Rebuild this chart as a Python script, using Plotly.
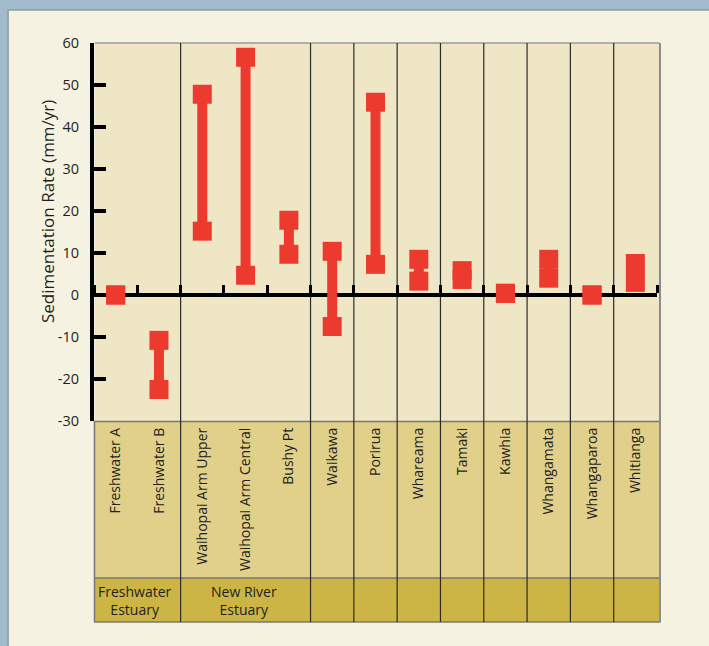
import plotly.graph_objects as go

# ---------------- data ----------------
categories = ["Freshwater A", "Freshwater B", "Waihopai Arm Upper", "Waihopai Arm Central",
              "Bushy Pt", "Waikawa", "Porirua", "Whareama", "Tamaki", "Kawhia",
              "Whangamata", "Whangaparoa", "Whitianga"]
rate_low = [0.0, -22.5, 15.2, 4.7, 9.7, -7.5, 7.3, 3.3, 3.7, 0.4, 4.0, 0.0, 3.0]
rate_high = [0.0, -10.8, 47.8, 56.6, 17.8, 10.4, 45.9, 8.5, 5.8, 0.4, 8.5, 0.0, 7.5]
group_labels = ["Freshwater<br>Estuary", "New River<br>Estuary"]
group_first = [0, 2]
group_last = [1, 4]
divider_after = [1, 4, 5, 6, 7, 8, 9, 10, 11]
y_ticks = [-30, -20, -10, 0, 10, 20, 30, 40, 50, 60]
y_tick_text = [str(v) for v in y_ticks]
y_title = "Sedimentation Rate (mm/yr)"

# ---------------- style ----------------
RED = "#EC3A2F"
BLUE = "#A2BBCA"
CREAM = "#F6F2E2"
TAN = "#EFE6C6"
BAND1 = "#E0D08A"
BAND2 = "#CDB545"
INK = "#231F20"
FONT = "Open Sans"

W, H = 709, 646
L, R, T, B = 94, 657.5, 43, 421


def px(x):
    return (x - L) / (R - L)


def py(y):
    return (B - y) / (B - T)


fig = go.Figure()

# connectors
xs, ys = [], []
for c, lo, hi in zip(categories, rate_low, rate_high):
    if hi != lo:
        xs += [c, c, None]
        ys += [lo, hi, None]
fig.add_trace(go.Scatter(x=xs, y=ys, mode="lines", line=dict(color=RED, width=10),
                         hoverinfo="skip", showlegend=False, connectgaps=False))
# end markers
fig.add_trace(go.Scatter(x=categories + categories, y=rate_low + rate_high, mode="markers",
                         marker=dict(symbol="square", size=19, color=RED, line=dict(width=0)),
                         showlegend=False))
# label axis carrier
fig.add_trace(go.Scatter(x=categories, y=rate_low, xaxis="x2", mode="markers",
                         marker=dict(opacity=0), hoverinfo="skip", showlegend=False))

shapes = []
# panel
shapes.append(dict(type="rect", xref="paper", yref="paper", layer="below",
                   x0=px(8), x1=px(730), y0=py(10), y1=py(680),
                   fillcolor=CREAM, line=dict(color="#8E9CA6", width=1.5)))
# plot area
shapes.append(dict(type="rect", xref="paper", yref="paper", layer="below",
                   x0=px(95), x1=px(660), y0=py(43), y1=py(421),
                   fillcolor=TAN, line=dict(width=0)))
# label band
shapes.append(dict(type="rect", xref="paper", yref="paper", layer="below",
                   x0=px(94), x1=px(661), y0=py(578), y1=py(421),
                   fillcolor=BAND1, line=dict(width=0)))
# group band
shapes.append(dict(type="rect", xref="paper", yref="paper", layer="below",
                   x0=px(94), x1=px(661), y0=py(622), y1=py(578),
                   fillcolor=BAND2, line=dict(width=0)))
GRAY = "#777777"
for yy in (421.5, 578, 622):
    shapes.append(dict(type="line", xref="paper", yref="paper", layer="below",
                       x0=px(94), x1=px(661), y0=py(yy), y1=py(yy),
                       line=dict(color=GRAY, width=1.5)))
shapes.append(dict(type="line", xref="paper", yref="paper", layer="below",
                   x0=px(95), x1=px(660), y0=py(43), y1=py(43),
                   line=dict(color="#9A9A9A", width=1.5)))
shapes.append(dict(type="line", xref="paper", yref="paper", layer="below",
                   x0=px(660.5), x1=px(660.5), y0=py(622), y1=py(43),
                   line=dict(color="#8C8C8C", width=2)))
shapes.append(dict(type="line", xref="paper", yref="paper", layer="below",
                   x0=px(94.5), x1=px(94.5), y0=py(622), y1=py(421),
                   line=dict(color=GRAY, width=1.5)))
for i in divider_after:
    shapes.append(dict(type="line", xref="x", yref="paper", layer="below",
                       x0=i + 0.5, x1=i + 0.5, y0=py(622), y1=1,
                       line=dict(color="#2B2B2B", width=1.2)))

annotations = [dict(text=y_title, xref="paper", yref="paper", x=px(47), y=py(212),
                    textangle=-90, showarrow=False, xanchor="center", yanchor="middle",
                    font=dict(family=FONT, size=17, color=INK))]
for lab, a, b in zip(group_labels, group_first, group_last):
    annotations.append(dict(text=lab, xref="x", yref="paper", x=(a + b) / 2, y=py(600),
                            xshift=-2, showarrow=False, xanchor="center", yanchor="middle",
                            align="center", font=dict(family=FONT, size=14, color=INK)))

fig.update_layout(
    width=W, height=H,
    margin=dict(l=L, r=W - R, t=T, b=H - B, pad=0, autoexpand=False),
    paper_bgcolor=BLUE, plot_bgcolor="rgba(0,0,0,0)",
    showlegend=False,
    font=dict(family=FONT, color=INK),
    shapes=shapes, annotations=annotations,
    xaxis=dict(type="category", categoryorder="array", categoryarray=categories,
               range=[-0.5, len(categories) - 0.5], domain=[0, 1],
               anchor="free", position=1 / 3, side="top",
               showline=True, linecolor="black", linewidth=4,
               ticks="outside", tickson="boundaries", ticklen=8, tickwidth=3, tickcolor="black",
               showticklabels=False, showgrid=False, zeroline=False, layer="below traces",
               fixedrange=True),
    xaxis2=dict(type="category", categoryorder="array", categoryarray=categories,
                range=[-0.5, len(categories) - 0.5], overlaying="x", anchor="y", side="bottom",
                showline=False, ticks="", showticklabels=True, tickangle=-90,
                tickfont=dict(family=FONT, size=14, color=INK),
                showgrid=False, zeroline=False, ticklabelstandoff=3),
    yaxis=dict(range=[-30, 60], tickvals=y_ticks, ticktext=y_tick_text,
               showline=True, linecolor="black", linewidth=4,
               ticks="inside", ticklen=12, tickwidth=4, tickcolor="black",
               showgrid=False, zeroline=False, tickfont=dict(family=FONT, size=14.5, color=INK),
               ticklabelstandoff=8, fixedrange=True),
)

fig.write_html("out.html", config={"displayModeBar": False},
               post_script="document.body.style.margin='0';document.body.style.background='%s';" % BLUE)
